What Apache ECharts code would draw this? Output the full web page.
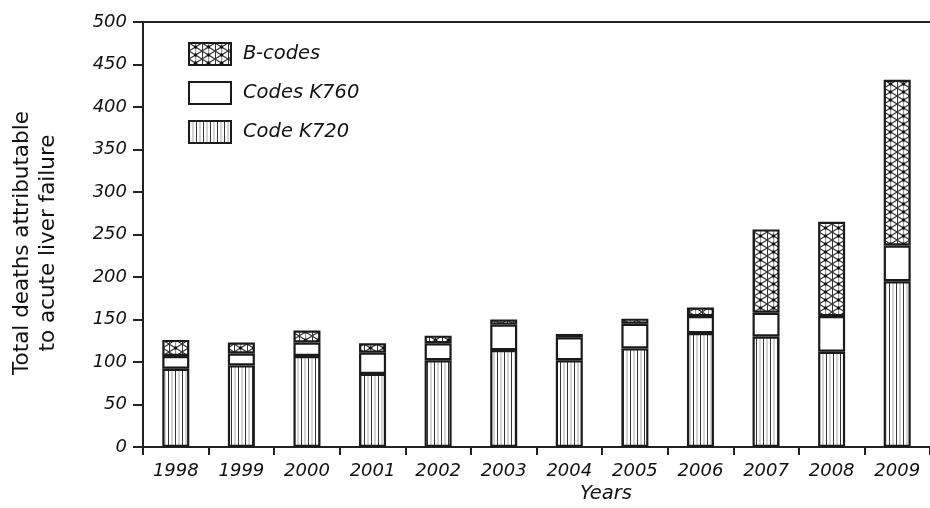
<!DOCTYPE html>
<html>
<head>
<meta charset="utf-8">
<script src="https://cdn.jsdelivr.net/npm/echarts@6/dist/echarts.min.js"></script>
<style>
html,body{margin:0;padding:0;background:#fff;}
#chart{width:930px;height:508px;}
</style>
</head>
<body>
<div id="chart"></div>
<script>
// ---- data ----
var years = ['1998','1999','2000','2001','2002','2003','2004','2005','2006','2007','2008','2009'];
var codeK720 = [92, 96, 107, 86, 102, 114, 102, 116, 134, 130, 112, 195];
var codesK760 = [15, 14, 16, 25, 20, 30, 27, 29, 20, 28, 42, 42];
var bCodes = [19, 13, 14, 11, 9, 6, 4, 6, 10, 98, 111, 195];
var yTicks = [0, 50, 100, 150, 200, 250, 300, 350, 400, 450, 500];

// ---- patterns ----
function vertPattern(){
  var c = document.createElement('canvas'); c.width = 7; c.height = 10;
  var g = c.getContext('2d');
  g.fillStyle = '#fff'; g.fillRect(0,0,7,10);
  g.fillStyle = '#333'; g.fillRect(0,0,1,10);
  g.fillStyle = '#aaa'; g.fillRect(3.5,0,1,10);
  return c;
}
function crossPattern(){
  var w = 13, h = 8;
  var c = document.createElement('canvas'); c.width = w; c.height = h;
  var g = c.getContext('2d');
  g.fillStyle = '#fff'; g.fillRect(0,0,w,h);
  g.strokeStyle = '#333'; g.lineWidth = 1.1;
  g.beginPath(); g.moveTo(0,0); g.lineTo(w,h); g.moveTo(w,0); g.lineTo(0,h); g.stroke();
  g.fillStyle = '#999'; g.fillRect(6,0,1.2,h);
  g.fillStyle = '#333'; g.fillRect(0,0,1,h);
  g.fillStyle = '#111'; g.beginPath(); g.arc(6.5,4,1.7,0,Math.PI*2); g.fill();
  return c;
}
var vPat = {image: vertPattern(), repeat: 'repeat'};
var xPat = {image: crossPattern(), repeat: 'repeat'};

var FONT = '"DejaVu Sans", sans-serif';
var border = {borderColor: '#1a1a1a', borderWidth: 2.2};

var chart = echarts.init(document.getElementById('chart'), null, {renderer: 'canvas'});
chart.setOption({
  animation: false,
  backgroundColor: '#fff',
  grid: {left: 143, top: 22, width: 795, height: 425, containLabel: false},
  legend: {
    orient: 'vertical', left: 183, top: 37, icon: 'rect',
    itemWidth: 42, itemHeight: 22, itemGap: 15,
    data: ['B-codes', 'Codes K760', 'Code K720'],
    textStyle: {fontFamily: FONT, fontStyle: 'italic', fontSize: 19.5, color: '#111', padding: [0,0,0,7]}
  },
  xAxis: [{
    type: 'category', data: years, position: 'bottom',
    axisLine: {lineStyle: {color: '#222', width: 2}},
    axisTick: {show: true, length: 8, lineStyle: {color: '#222', width: 2}},
    axisLabel: {fontFamily: FONT, fontStyle: 'italic', fontSize: 18, color: '#111', margin: 15}
  },{
    type: 'category', data: years, position: 'top',
    axisLine: {lineStyle: {color: '#222', width: 2}},
    axisTick: {show: false}, axisLabel: {show: false}
  }],
  yAxis: {
    type: 'value', min: yTicks[0], max: yTicks[yTicks.length-1], interval: yTicks[1]-yTicks[0],
    axisLine: {show: true, lineStyle: {color: '#222', width: 2}},
    axisTick: {show: true, length: 10, lineStyle: {color: '#222', width: 2}},
    splitLine: {show: false},
    axisLabel: {fontFamily: FONT, fontStyle: 'italic', fontSize: 18, color: '#111', margin: 16}
  },
  graphic: [
    {type: 'text', left: 580, top: 484,
     style: {text: 'Years', fontFamily: FONT, fontStyle: 'italic', fontSize: 19.5, fill: '#111'}},
    {type: 'text', x: 35, y: 243, rotation: Math.PI/2,
     style: {text: 'Total deaths attributable\nto acute liver failure', fontFamily: FONT, fontSize: 21.5,
             fill: '#111', align: 'center', verticalAlign: 'middle', lineHeight: 26}}
  ],
  series: [
    {name: 'Code K720', type: 'bar', stack: 'total', barWidth: 27, data: codeK720,
     itemStyle: Object.assign({color: vPat}, border)},
    {name: 'Codes K760', type: 'bar', stack: 'total', barWidth: 27, data: codesK760,
     itemStyle: Object.assign({color: '#fff'}, border)},
    {name: 'B-codes', type: 'bar', stack: 'total', barWidth: 27, data: bCodes,
     itemStyle: Object.assign({color: xPat}, border)}
  ]
});
</script>
</body>
</html>
